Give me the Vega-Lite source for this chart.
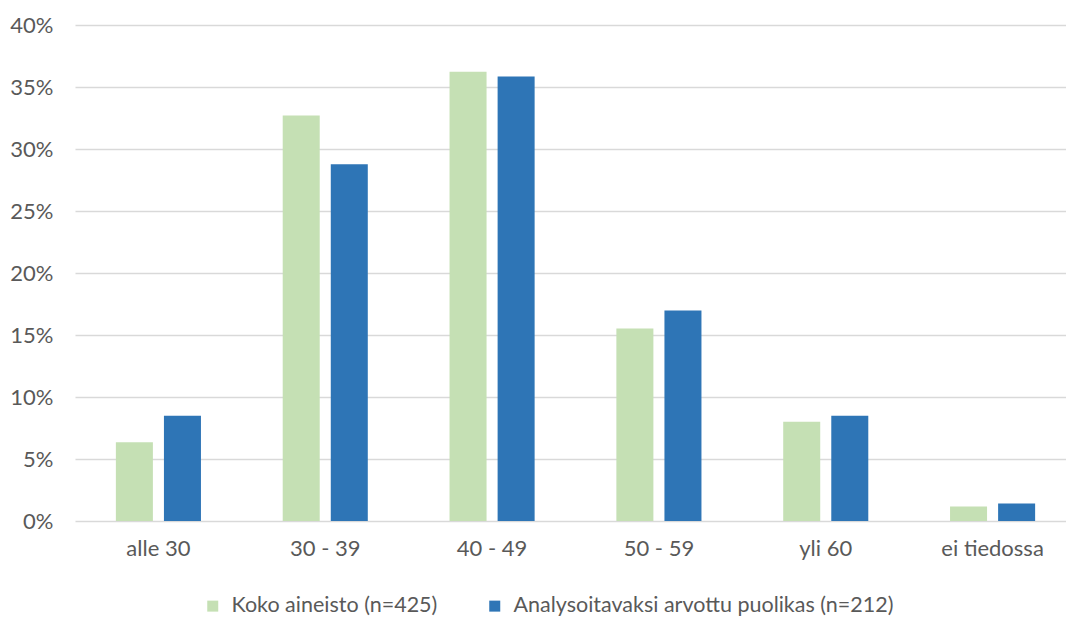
{
  "$schema": "https://vega.github.io/schema/vega-lite/v6.json",
  "width": 991,
  "height": 496,
  "autosize": {"type": "none"},
  "padding": {"left": 75, "top": 25, "right": 0, "bottom": 96},
  "background": "white",
  "data": {
    "values": [
      {"ika": "alle 30", "ryhma": "Koko aineisto (n=425)", "osuus": 0.06353},
      {"ika": "alle 30", "ryhma": "Analysoitavaksi arvottu puolikas (n=212)", "osuus": 0.08491},
      {"ika": "30 - 39", "ryhma": "Koko aineisto (n=425)", "osuus": 0.32706},
      {"ika": "30 - 39", "ryhma": "Analysoitavaksi arvottu puolikas (n=212)", "osuus": 0.28774},
      {"ika": "40 - 49", "ryhma": "Koko aineisto (n=425)", "osuus": 0.36235},
      {"ika": "40 - 49", "ryhma": "Analysoitavaksi arvottu puolikas (n=212)", "osuus": 0.35849},
      {"ika": "50 - 59", "ryhma": "Koko aineisto (n=425)", "osuus": 0.15529},
      {"ika": "50 - 59", "ryhma": "Analysoitavaksi arvottu puolikas (n=212)", "osuus": 0.16981},
      {"ika": "yli 60", "ryhma": "Koko aineisto (n=425)", "osuus": 0.08},
      {"ika": "yli 60", "ryhma": "Analysoitavaksi arvottu puolikas (n=212)", "osuus": 0.08491},
      {"ika": "ei tiedossa", "ryhma": "Koko aineisto (n=425)", "osuus": 0.01176},
      {"ika": "ei tiedossa", "ryhma": "Analysoitavaksi arvottu puolikas (n=212)", "osuus": 0.01415}
    ]
  },
  "config": {
    "font": "Lato",
    "view": {"stroke": null},
    "axis": {"labelColor": "#595959", "labelFont": "Lato", "labelFontSize": 22, "ticks": false, "domain": false, "title": null},
    "legend": {"labelColor": "#595959", "labelFont": "Lato", "labelFontSize": 21.5, "labelLimit": 0}
  },
  "mark": {"type": "bar"},
  "encoding": {
    "x": {
      "field": "ika",
      "type": "nominal",
      "sort": ["alle 30", "30 - 39", "40 - 49", "50 - 59", "yli 60", "ei tiedossa"],
      "scale": {"range": [0, 1001], "paddingInner": 0.49, "paddingOuter": 0.245},
      "axis": {"labelAngle": 0, "labelPadding": 17, "grid": false}
    },
    "xOffset": {
      "field": "ryhma",
      "type": "nominal",
      "sort": ["Koko aineisto (n=425)", "Analysoitavaksi arvottu puolikas (n=212)"],
      "scale": {"paddingInner": 0.23, "paddingOuter": 0}
    },
    "y": {
      "field": "osuus",
      "type": "quantitative",
      "scale": {"domain": [0, 0.4], "nice": false},
      "axis": {
        "values": [0, 0.05, 0.1, 0.15, 0.2, 0.25, 0.3, 0.35, 0.4],
        "format": ".0%",
        "labelPadding": 22,
        "grid": true,
        "gridColor": "#d9d9d9",
        "gridWidth": 1.4
      }
    },
    "color": {
      "field": "ryhma",
      "type": "nominal",
      "sort": ["Koko aineisto (n=425)", "Analysoitavaksi arvottu puolikas (n=212)"],
      "scale": {"range": ["#c5e0b4", "#2e75b6"]},
      "legend": {
        "title": null,
        "orient": "none",
        "direction": "horizontal",
        "legendX": 127,
        "legendY": 570,
        "symbolType": "square",
        "symbolSize": 121,
        "symbolStrokeWidth": 0,
        "labelOffset": 8,
        "columnPadding": 46
      }
    }
  }
}
